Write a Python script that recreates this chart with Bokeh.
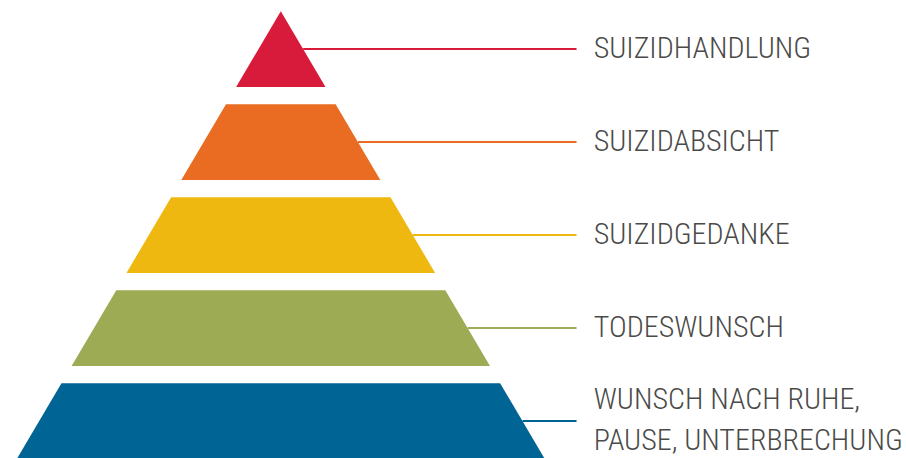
from bokeh.plotting import figure
from bokeh.models import Range1d, ColumnDataSource
from bokeh.embed import file_html
from bokeh.resources import INLINE
from bokeh.core.properties import value

# Pyramid levels, bottom to top
levels = [0, 1, 2, 3, 4]
labels = [
    "WUNSCH NACH RUHE,\nPAUSE, UNTERBRECHUNG",
    "TODESWUNSCH",
    "SUIZIDGEDANKE",
    "SUIZIDABSICHT",
    "SUIZIDHANDLUNG",
]
colors = ["#006494", "#9DAB55", "#EEB811", "#E96C22", "#D81B3B"]

BAND = 0.815
APEX = levels[-1] + BAND
SLOPE = 0.5896
LINE_END = 3.18
TEXT_X = 3.365


def half(y):
    return SLOPE * (APEX - y)


xs, ys, lx0, lx1, ly, tx = [], [], [], [], [], []
for lv in levels:
    y0, y1 = lv, lv + BAND
    xs.append([-half(y0), half(y0), half(y1), -half(y1)])
    ys.append([y0, y0, y1, y1])
    mid = lv + BAND / 2
    lx0.append(half(mid))
    lx1.append(LINE_END)
    ly.append(mid)
    tx.append(TEXT_X)

src = ColumnDataSource(dict(xs=xs, ys=ys, color=colors, lx0=lx0, lx1=lx1,
                            ly=ly, tx=tx, label=labels))

W, H = 906, 458
p = figure(width=W, height=H,
           x_range=Range1d(-280.3 / 93, (W - 280.3) / 93),
           y_range=Range1d(4.815 + 10.7 / 93 - H / 93, 4.815 + 10.7 / 93),
           output_backend="svg", toolbar_location=None,
           x_axis_location=None, y_axis_location=None, min_border=0)
p.grid.visible = False
p.outline_line_color = None

p.patches("xs", "ys", fill_color="color", line_color=None, source=src)
p.segment("lx0", "ly", "lx1", "ly", line_color="color", line_width=2, source=src)
p.text("tx", "ly", text="label", source=src,
       text_font=value("Roboto Condensed Light"), text_font_size="30px",
       text_color="#4A4A48", text_baseline="middle", text_align="left",
       text_line_height=1.17, y_offset=-2)

open("out.html", "w").write(file_html(p, INLINE))
